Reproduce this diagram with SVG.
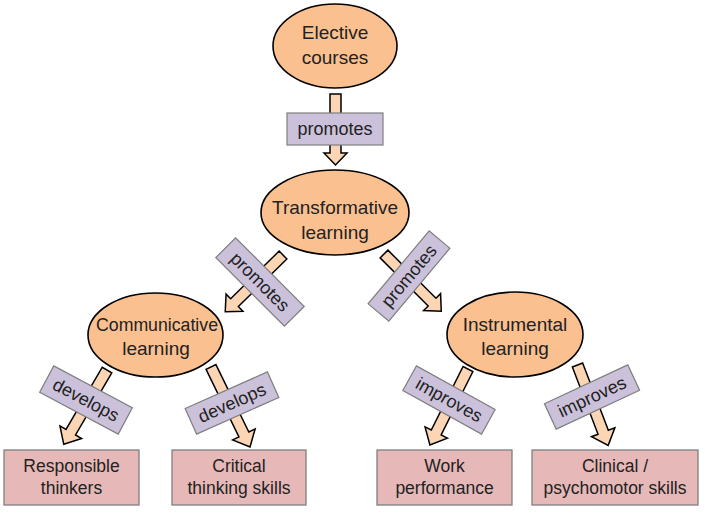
<svg xmlns="http://www.w3.org/2000/svg" width="705" height="516" viewBox="0 0 705 516">
<style>
.ell{fill:#fac090;stroke:#000;stroke-width:1.6}
.box{fill:#e6b9b8;stroke:#7f7f7f;stroke-width:1.3}
.lbl{fill:#ccc1da;stroke:#7f7f7f;stroke-width:1.2}
.arr{fill:#fcd5b5;stroke:#000;stroke-width:1.5;stroke-linejoin:miter}
text{font-family:"Liberation Sans",Arial,sans-serif;fill:#222;text-anchor:middle}
.t19{font-size:19px}
.t17{font-size:17.5px}
.t18{font-size:18px}
</style>
<rect width="705" height="516" fill="#fff"/>
<g id="elective">
<ellipse class="ell" cx="335" cy="46" rx="62" ry="42"/>
<text class="t19" x="335" y="39">Elective</text>
<text class="t19" x="335" y="64">courses</text>
</g>
<g id="transformative">
<ellipse class="ell" cx="335" cy="212.5" rx="74" ry="42.5"/>
<text class="t19" x="335" y="214">Transformative</text>
<text class="t19" x="335" y="239">learning</text>
</g>
<g id="communicative">
<ellipse class="ell" cx="155.5" cy="335" rx="67.5" ry="42"/>
<text class="t19" x="157" y="331" textLength="122" lengthAdjust="spacingAndGlyphs">Communicative</text>
<text class="t19" x="156" y="355">learning</text>
</g>
<g id="instrumental">
<ellipse class="ell" cx="515" cy="334.5" rx="68" ry="42.5"/>
<text class="t19" x="515" y="331">Instrumental</text>
<text class="t19" x="515" y="355">learning</text>
</g>
<g id="responsible">
<rect class="box" x="4" y="450" width="135" height="55"/>
<text class="t17" x="71.5" y="472">Responsible</text>
<text class="t17" x="71.5" y="494">thinkers</text>
</g>
<g id="critical">
<rect class="box" x="172" y="450" width="134" height="55"/>
<text class="t17" x="239" y="472">Critical</text>
<text class="t17" x="239" y="494">thinking skills</text>
</g>
<g id="work">
<rect class="box" x="377" y="450" width="135" height="55"/>
<text class="t17" x="444.5" y="472">Work</text>
<text class="t17" x="444.5" y="494">performance</text>
</g>
<g id="clinical">
<rect class="box" x="532" y="450" width="166" height="55"/>
<text class="t17" x="615" y="472">Clinical /</text>
<text class="t17" x="615" y="494">psychomotor skills</text>
</g>
<g id="connectors">
<path class="arr" transform="translate(335.5,94) rotate(90)" d="M0,-5.5 H59 V-11.5 L71,0 L59,11.5 V5.5 H0Z"/>
<path class="arr" transform="translate(283,255) rotate(135.5)" d="M0,-5.5 H68 V-12 L81,0 L68,12 V5.5 H0Z"/>
<path class="arr" transform="translate(384,254) rotate(45)" d="M0,-5.5 H68 V-12 L81,0 L68,12 V5.5 H0Z"/>
<path class="arr" transform="translate(107,370) rotate(120.2)" d="M0,-5.5 H72 V-12.5 L86,0 L72,12.5 V5.5 H0Z"/>
<path class="arr" transform="translate(211,367) rotate(64)" d="M0,-5.5 H75 V-12.5 L89,0 L75,12.5 V5.5 H0Z"/>
<path class="arr" transform="translate(468,369) rotate(116.6)" d="M0,-5.5 H71 V-12.5 L85,0 L71,12.5 V5.5 H0Z"/>
<path class="arr" transform="translate(577.5,365) rotate(69.1)" d="M0,-5.5 H72 V-12.5 L86,0 L72,12.5 V5.5 H0Z"/>
<g transform="translate(335,129)"><rect class="lbl" x="-48" y="-16" width="96" height="32"/><text class="t18" x="0" y="6">promotes</text></g>
<g transform="translate(260,282) rotate(45)"><rect class="lbl" x="-48.5" y="-14" width="97" height="28"/><text class="t18" x="0" y="6">promotes</text></g>
<g transform="translate(409,276) rotate(-50)"><rect class="lbl" x="-47.5" y="-13.5" width="95" height="27"/><text class="t18" x="0" y="6">promotes</text></g>
<g transform="translate(86,400) rotate(28)"><rect class="lbl" x="-44.5" y="-15" width="89" height="30"/><text class="t18" x="0" y="6">develops</text></g>
<g transform="translate(232,403) rotate(-24)"><rect class="lbl" x="-45" y="-14" width="90" height="28"/><text class="t18" x="0" y="6">develops</text></g>
<g transform="translate(449,400) rotate(29)"><rect class="lbl" x="-45" y="-14" width="90" height="28"/><text class="t18" x="0" y="6">improves</text></g>
<g transform="translate(592,397) rotate(-25)"><rect class="lbl" x="-46" y="-14" width="92" height="28"/><text class="t18" x="0" y="6">improves</text></g>
</g>
</svg>
